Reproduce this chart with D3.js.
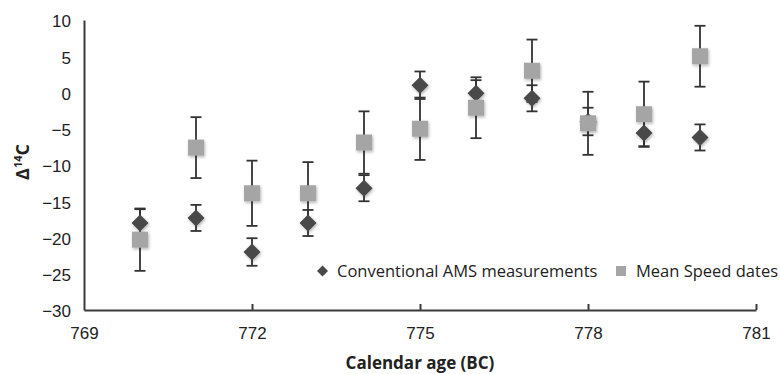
<!DOCTYPE html>
<html>
<head>
<meta charset="utf-8">
<script src="https://cdn.jsdelivr.net/npm/d3@7"></script>
<style>
  body { margin: 0; background: #fff; }
  svg { font-family: "Open Sans", sans-serif; }
</style>
</head>
<body>
<div id="chart"></div>
<script>
// data
var years = [770, 771, 772, 773, 774, 775, 776, 777, 778, 779, 780];
var convValues = [-18.0, -17.3, -22.0, -18.0, -13.2, 1.0, -0.1, -0.8, -4.0, -5.6, -6.2];
var convErrors = [1.9, 1.8, 1.9, 1.8, 1.8, 1.9, 1.8, 1.8, 1.9, 1.8, 1.8];
var meanValues = [-20.3, -7.6, -13.9, -13.9, -6.9, -5.0, -2.1, 3.0, -4.25, -3.0, 5.0];
var meanErrors = [4.3, 4.2, 4.5, 4.3, 4.3, 4.3, 4.2, 4.3, 4.35, 4.5, 4.2];
var xTicks = [769, 772, 775, 778, 781];
var yTicks = [10, 5, 0, -5, -10, -15, -20, -25, -30];
var seriesNames = ["Conventional AMS measurements", "Mean Speed dates"];

var W = 780, H = 374;
var margin = { top: 20, right: 24, bottom: 64, left: 84 };

var svg = d3.select("#chart").append("svg")
  .attr("width", W).attr("height", H);

var defs = svg.append("defs");
var shadow = defs.append("filter").attr("id", "shadow")
  .attr("x", "-50%").attr("y", "-50%").attr("width", "200%").attr("height", "200%");
shadow.append("feDropShadow").attr("dx", 1).attr("dy", 1.5)
  .attr("stdDeviation", 1.5).attr("flood-color", "#000").attr("flood-opacity", 0.3);

var xScale = d3.scaleLinear().domain([769, 781]).range([margin.left, W - margin.right]);
var yScale = d3.scaleLinear().domain([-30, 10]).range([H - margin.bottom, margin.top]);

var axisColor = "#3a3a3a";
var fs = 17;

// y axis: line only, labels on the left
var leftAxis = d3.axisLeft(yScale).tickValues(yTicks).tickSize(0).tickPadding(13);
var gy = svg.append("g").attr("transform", "translate(" + margin.left + ",0)").call(leftAxis);
gy.select(".domain").attr("stroke", axisColor).attr("stroke-width", 2);
gy.selectAll("text").attr("font-size", fs).attr("fill", "#222").attr("dy", "0.4em");

// x axis with inside ticks
var bottomAxis = d3.axisBottom(xScale).tickValues(xTicks).tickFormat(d3.format("d"))
  .tickSizeInner(-6).tickSizeOuter(0).tickPadding(17);
var gx = svg.append("g").attr("transform", "translate(0," + (H - margin.bottom) + ")").call(bottomAxis);
gx.select(".domain").attr("stroke", axisColor).attr("stroke-width", 2);
gx.selectAll(".tick line").attr("stroke", axisColor).attr("stroke-width", 2);
gx.selectAll(".tick").filter(function (d) { return d === 769; }).select("line").remove();
gx.selectAll("text").attr("font-size", fs).attr("fill", "#222");

// axis titles
svg.append("text")
  .attr("x", xScale(775)).attr("y", 369)
  .attr("text-anchor", "middle")
  .attr("font-size", fs).attr("font-weight", "bold").attr("fill", "#222")
  .text("Calendar age (BC)");

var yTitle = svg.append("text")
  .attr("transform", "translate(29," + (yScale(-10) - 3) + ") rotate(-90)")
  .attr("text-anchor", "middle")
  .attr("font-size", 18).attr("font-weight", "bold").attr("fill", "#222");
yTitle.append("tspan").text("Δ");
yTitle.append("tspan").attr("font-size", 11).attr("dy", -7).text("14");
yTitle.append("tspan").attr("dy", 7).text("C");

// error bars
var capW = 5.5;
var drawErrors = function (values, errors) {
  var g = svg.append("g").attr("stroke", "#333").attr("stroke-width", 1.8);
  years.forEach(function (yr, i) {
    var x = xScale(yr);
    var y0 = yScale(values[i] - errors[i]);
    var y1 = yScale(values[i] + errors[i]);
    g.append("line").attr("x1", x).attr("x2", x).attr("y1", y0).attr("y2", y1);
    g.append("line").attr("x1", x - capW).attr("x2", x + capW).attr("y1", y0).attr("y2", y0);
    g.append("line").attr("x1", x - capW).attr("x2", x + capW).attr("y1", y1).attr("y2", y1);
  });
};

drawErrors(convValues, convErrors);
drawErrors(meanValues, meanErrors);

var diamondR = 8.5;
var diamondPath = function (cx, cy, r) {
  return "M" + cx + "," + (cy - r) + "L" + (cx + r) + "," + cy + "L" + cx + "," + (cy + r) + "L" + (cx - r) + "," + cy + "Z";
};

svg.append("g").selectAll("path").data(years).enter().append("path")
  .attr("d", function (d, i) { return diamondPath(xScale(d), yScale(convValues[i]), diamondR); })
  .attr("fill", "#484848")
  .attr("filter", "url(#shadow)");

var sq = 16;
svg.append("g").selectAll("rect").data(years).enter().append("rect")
  .attr("x", function (d) { return xScale(d) - sq / 2; })
  .attr("y", function (d, i) { return yScale(meanValues[i]) - sq / 2; })
  .attr("width", sq).attr("height", sq)
  .attr("fill", "#a5a5a5")
  .attr("filter", "url(#shadow)");

// legend
var legY = 271;
svg.append("path").attr("d", diamondPath(322.5, legY, 5.5)).attr("fill", "#484848");
svg.append("text").attr("x", 337).attr("y", legY).attr("dy", "0.36em")
  .attr("font-size", 16.5).attr("fill", "#222").text(seriesNames[0]);
svg.append("rect").attr("x", 616).attr("y", legY - 5).attr("width", 10).attr("height", 10)
  .attr("fill", "#a5a5a5");
svg.append("text").attr("x", 636).attr("y", legY).attr("dy", "0.36em")
  .attr("font-size", 16.5).attr("fill", "#222").text(seriesNames[1]);
</script>
</body>
</html>
